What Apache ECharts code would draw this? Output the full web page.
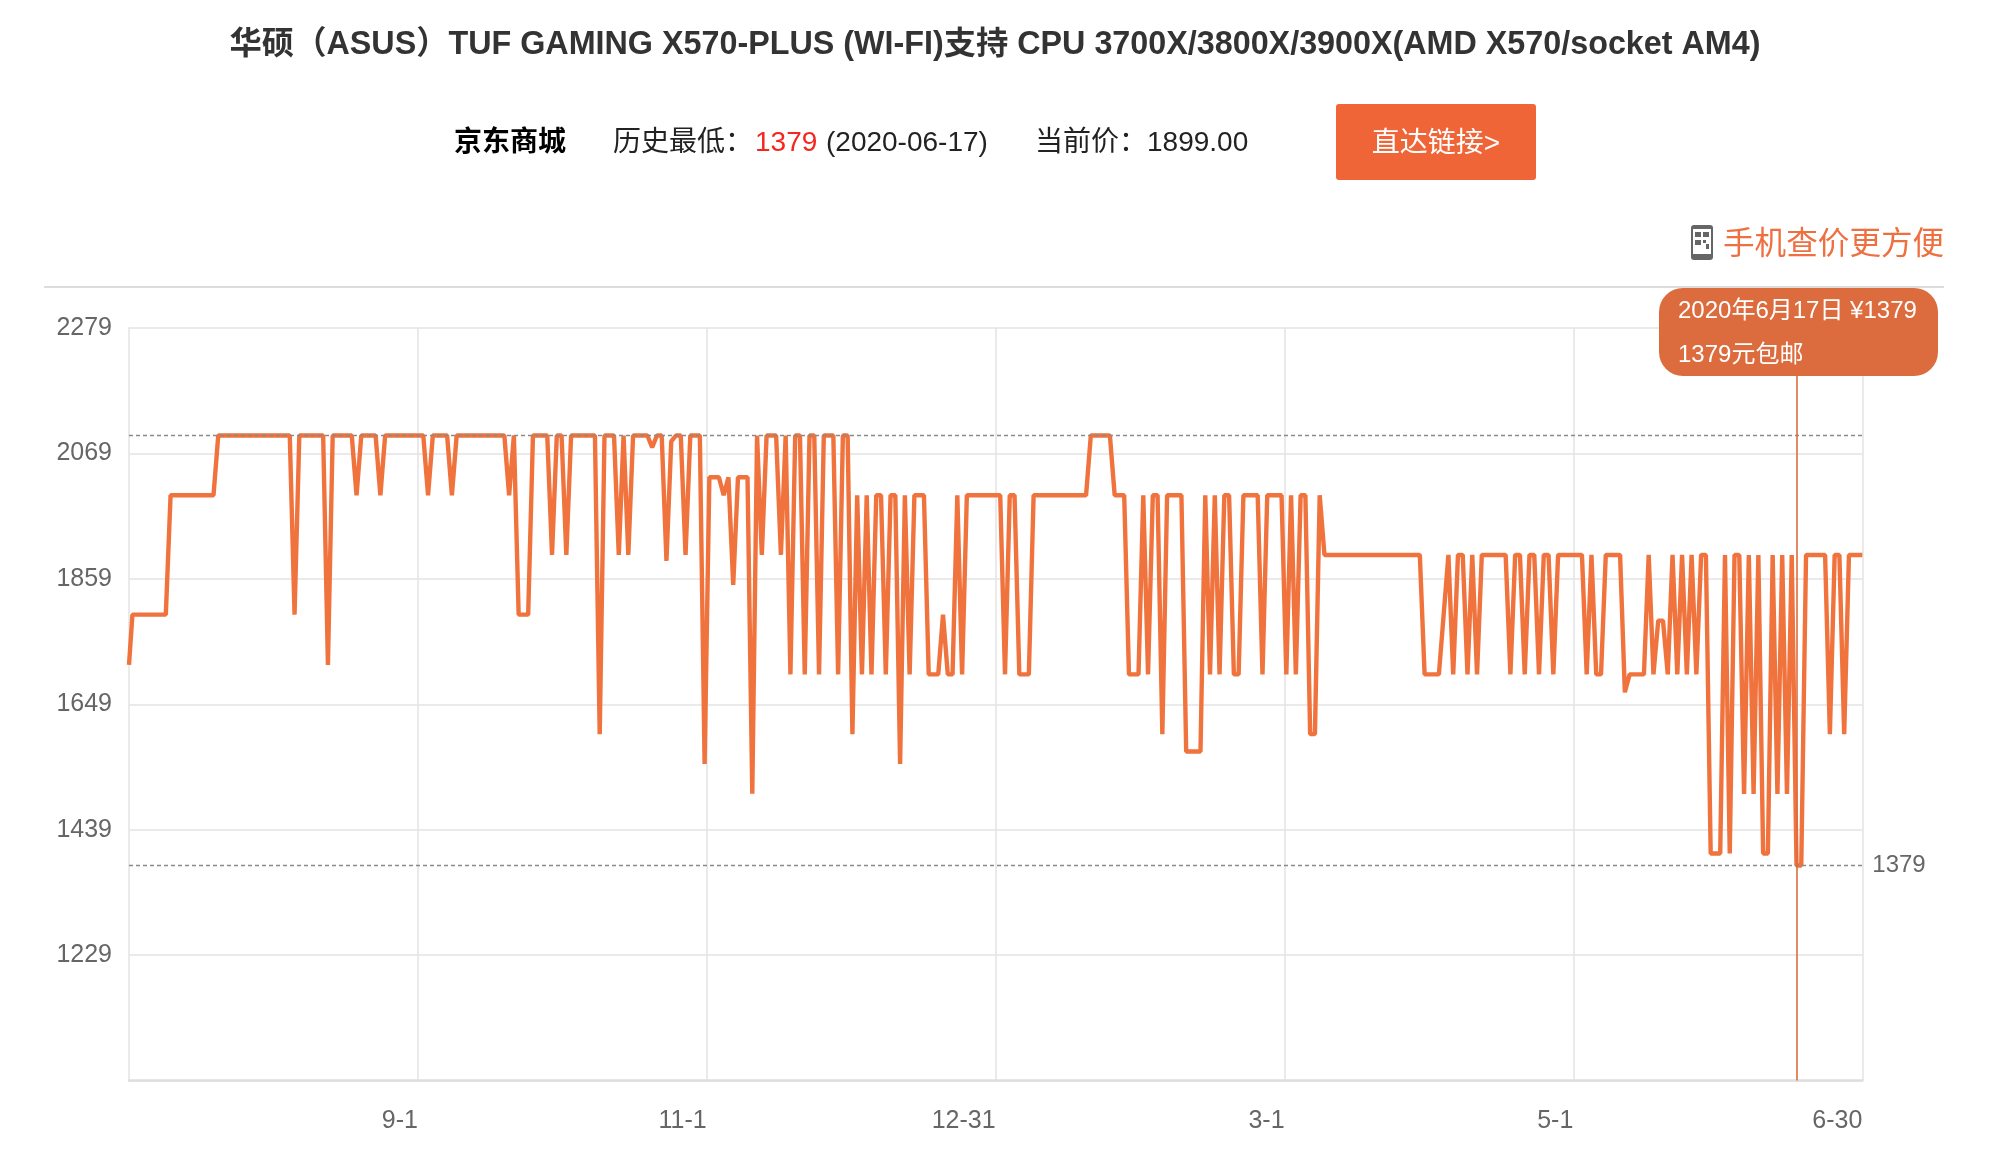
<!DOCTYPE html>
<html><head><meta charset="utf-8">
<style>html,body{margin:0;padding:0;background:#fff}#c{width:2016px;height:1170px}</style>
<script src="https://cdn.jsdelivr.net/npm/echarts@6/dist/echarts.min.js"></script>
</head><body><div id="c"></div>
<script>
const FONT = '"Liberation Sans","Noto Sans CJK SC",sans-serif';
const yTicks = [1019,1229,1439,1649,1859,2069,2279];
const yLabels = [1229,1439,1649,1859,2069,2279];
const xTicks = [60.87,121.45,182.04,242.63,303.2,363.8];
const xLabels = ['9-1','11-1','12-31','3-1','5-1','6-30'];
const xMin = 0.28, xMax = 363.8;
const yMin = 1019, yMax = 2279;
const highPrice = 2099, lowPrice = 1379, lowDay = 350;
// one price per day, beginning 2019-07-03
const prices = [
1715,1799,1799,1799,1799,1799,1799,1799,1799,1999,1999,1999,1999,1999,1999,1999,1999,1999,1999,
2099,2099,2099,2099,2099,2099,2099,2099,2099,2099,2099,2099,2099,2099,2099,2099,1799,
2099,2099,2099,2099,2099,2099,1715,2099,2099,2099,2099,2099,1999,2099,2099,2099,2099,1999,
2099,2099,2099,2099,2099,2099,2099,2099,2099,1999,2099,2099,2099,2099,1999,
2099,2099,2099,2099,2099,2099,2099,2099,2099,2099,2099,1999,2099,1799,1799,1799,
2099,2099,2099,2099,1899,2099,2099,1899,2099,2099,2099,2099,2099,2099,1599,
2099,2099,2099,1899,2099,1899,2099,2099,2099,2099,2079,2099,2099,1889,2089,2099,2099,1899,
2099,2099,2099,1549,2029,2029,2029,1999,2029,1849,2029,2029,2029,1499,2099,1899,
2099,2099,2099,1899,2099,1699,2099,2099,1699,2099,2099,1699,2099,2099,2099,1699,2099,2099,1599,
1999,1699,1999,1699,1999,1999,1699,1999,1999,1549,1999,1699,1999,1999,1999,
1699,1699,1699,1799,1699,1699,1999,1699,
1999,1999,1999,1999,1999,1999,1999,1999,1699,1999,1999,1699,1699,1699,
1999,1999,1999,1999,1999,1999,1999,1999,1999,1999,1999,1999,
2099,2099,2099,2099,2099,1999,1999,1999,1699,1699,1699,1999,1699,1999,1999,1599,
1999,1999,1999,1999,1570,1570,1570,1570,1999,1699,1999,1699,1999,1999,1699,1699,
1999,1999,1999,1999,1699,1999,1999,1999,1999,1699,1999,1699,1999,1999,1599,1599,1999,
1899,1899,1899,1899,1899,1899,1899,1899,1899,1899,1899,1899,1899,1899,1899,1899,1899,1899,1899,1899,1899,
1699,1699,1699,1699,1799,1899,1699,1899,1899,1699,1899,1699,
1899,1899,1899,1899,1899,1899,1699,1899,1899,1699,1899,1899,1699,1899,1899,1699,
1899,1899,1899,1899,1899,1899,1699,1899,1699,1699,1899,1899,1899,1899,1669,
1699,1699,1699,1699,1899,1699,1789,1789,1699,1899,1699,1899,1699,1899,1699,1899,1899,
1399,1399,1399,1899,1399,1899,1899,1499,1899,1499,1899,1399,1399,1899,1499,1899,1499,1899,
1379,1379,1899,1899,1899,1899,1899,1599,1899,1899,1599,1899,1899,1899,1899
];
const titleText = '华硕（ASUS）TUF GAMING X570-PLUS (WI-FI)支持 CPU 3700X/3800X/3900X(AMD X570/socket AM4)';

const line = prices.map((v, i) => [Math.min(Math.max(i, xMin), xMax), v]);
const GRID = '#e3e3e3', ORANGE = '#f0733d', TIP = '#dc6c3e';
const txt = (x, y, text, size, fill, weight, align) => ({
  type: 'text', z: 20, x, y,
  style: { text, fill, align: align || 'left', verticalAlign: 'middle',
           font: (weight || 'normal') + ' ' + size + 'px ' + FONT }
});
const box = (x, y, w, h, r, fill, z) => ({
  type: 'rect', z: z || 20, shape: { x, y, width: w, height: h, r }, style: { fill }
});

const chart = echarts.init(document.getElementById('c'), null, { renderer: 'canvas' });
chart.setOption({
  animation: false,
  backgroundColor: '#fff',
  textStyle: { fontFamily: FONT },
  grid: { left: 129, right: 153.7, top: 328, bottom: 89.5, containLabel: false },
  xAxis: {
    type: 'value', min: xMin, max: xMax,
    axisLine: { show: true, lineStyle: { color: '#dedede', width: 2.5 } },
    axisTick: { show: false, customValues: xTicks },
    splitLine: { show: true, lineStyle: { color: GRID, width: 1.5 } },
    axisLabel: {
      customValues: xTicks, color: '#666', fontSize: 25, align: 'right', margin: 28,
      fontFamily: FONT, hideOverlap: false,
      formatter: v => xLabels[xTicks.indexOf(v)]
    }
  },
  yAxis: {
    type: 'value', min: yMin, max: yMax,
    axisLine: { show: true, lineStyle: { color: GRID, width: 1.5 } },
    axisTick: { show: false, customValues: yTicks },
    splitLine: { show: true, lineStyle: { color: GRID, width: 1.5 } },
    axisLabel: { customValues: yLabels, color: '#666', fontSize: 25, margin: 17, fontFamily: FONT,
                 padding: [7, 0, 0, 0], formatter: v => String(v) }
  },
  series: [{
    type: 'line', data: line, symbol: 'none', showSymbol: false, smooth: false,
    lineStyle: { color: ORANGE, width: 4.4, join: 'bevel' },
    markLine: {
      silent: true, symbol: 'none', precision: 0, animation: false,
      lineStyle: { color: '#8a8a8a', type: [4, 3], width: 1.4 },
      label: { show: false },
      data: [
        { yAxis: highPrice },
        { yAxis: lowPrice, label: { show: true, position: 'end', distance: 10, color: '#666', fontSize: 24, fontFamily: FONT, formatter: String(lowPrice) } },
        { xAxis: lowDay, lineStyle: { color: TIP, type: 'solid', width: 1.6 } }
      ]
    }
  }],
  graphic: [
    txt(995, 45, titleText, 32.3, '#333', 'bold', 'center'),
    txt(454, 143, '京东商城', 28, '#000', 'bold'),
    txt(613, 143, '历史最低：', 28, '#222'),
    txt(755, 143, String(lowPrice), 28, '#f5261f'),
    txt(826, 143, '(2020-06-17)', 28, '#222'),
    txt(1035, 143, '当前价：', 28, '#222'),
    txt(1147, 143, '1899.00', 28, '#222'),
    box(1336, 104, 200, 76, 3, '#ef6537'),
    txt(1436, 144, '直达链接>', 28, '#fff', 'normal', 'center'),
    txt(1723, 245, '手机查价更方便', 31.6, '#ee7040'),
    box(1691, 225, 22, 35, 3, '#666'),
    box(1693, 229, 18, 25, 0, '#fff'),
    box(1695, 232, 6, 5, 0, '#666'), box(1703, 232, 6, 5, 0, '#666'),
    box(1695, 240, 6, 5, 0, '#666'), box(1703, 240, 3, 3, 0, '#666'), box(1706, 244, 3, 5, 0, '#666'),
    { type: 'line', z: 20, shape: { x1: 44, y1: 287, x2: 1944, y2: 287 }, style: { stroke: '#dcdcdc', lineWidth: 2 } },
    box(1659, 288, 279, 88, 24, TIP),
    txt(1678, 311, '2020年6月17日 ¥1379', 24, '#fff'),
    txt(1678, 355, '1379元包邮', 24, '#fff')
  ]
});
</script></body></html>
